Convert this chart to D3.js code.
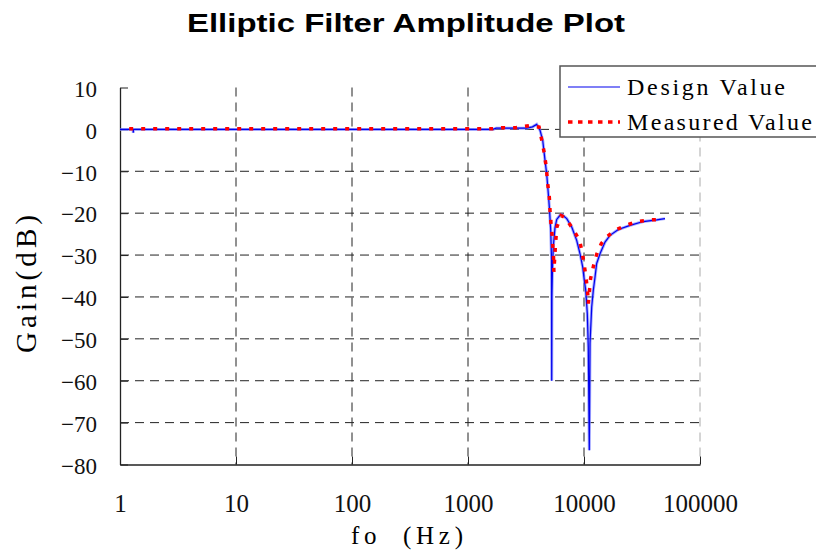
<!DOCTYPE html>
<html>
<head>
<meta charset="utf-8">
<script src="https://cdn.jsdelivr.net/npm/d3@7"></script>
<style>
  body { margin: 0; background: #fff; }
  svg { display: block; }
</style>
</head>
<body>
<div id="chart"></div>
<script>
// Data
const freqTicks = [1, 10, 100, 1000, 10000, 100000];
const gainTicks = [10, 0, -10, -20, -30, -40, -50, -60, -70, -80];

const designFreq = [1, 1.3, 1.3, 1.31, 10, 100, 1000, 1640, 1750, 3200,
                    3600, 3911, 4178, 4406, 4613, 4767, 4923, 5024, 5163, 5250,
                    5268, 5290, 5350, 5437, 5623, 5818, 6212, 6424, 7098, 7838,
                    8650, 9245, 9750, 10060, 10350, 10680, 10890, 11110, 11270, 11650,
                    12030, 12440, 12860, 13740, 15180, 16760, 19770, 24930, 32460, 42340,
                    49890];
const designGain = [0, 0, -0.8, 0, 0, 0, 0, 0, 0.3, 0.3,
                    0.6, 1.2, -0.2, -2.6, -7.4, -10.6, -15.3, -18.5, -24, -31,
                    -60, -40, -33, -28, -23.5, -21.5, -20.5, -20.3, -21.3, -23.3,
                    -26.5, -29.7, -32.9, -36, -38.4, -44, -52, -76.6, -51, -42.4,
                    -38.4, -35.3, -32, -29.7, -26.9, -25.3, -23.9, -22.9, -22, -21.6,
                    -21.3];

const measuredFreq = [1.2, 10, 100, 1000, 1640, 1930, 2590, 3389, 4100, 4318,
                      4555, 4730, 4858, 5024, 5093, 5165, 5330, 5460, 5500, 5690,
                      5840, 6350, 6830, 8000, 9150, 9640, 10000, 10400, 10720, 10890,
                      11400, 12100, 12860, 14080, 15920, 19140, 23110, 27920, 37320, 48340];
const measuredGain = [0.15, 0.15, 0.15, 0.15, 0.15, 0.4, 0.4, 0.9, 0.55, -2.5,
                      -5.8, -9.1, -12.8, -16.2, -19.3, -21.7, -25.7, -30.5, -34, -27,
                      -23.3, -20.6, -21, -23.7, -26.5, -29.3, -32, -35.3, -38.4, -41.6,
                      -35.6, -32.5, -29.8, -27.3, -25.5, -23.9, -22.9, -22.1, -21.6, -21.5];

const W = 816, H = 552;
const plot = { left: 120, right: 700, top: 87.5, bottom: 464.5 };
const serif = "Liberation Serif, Times New Roman, serif";

const svg = d3.select("#chart").append("svg")
    .attr("width", W)
    .attr("height", H);

const x = d3.scaleLog().domain([1, 100000]).range([plot.left, plot.right]);
const y = d3.scaleLinear().domain([-80, 10]).range([plot.bottom, plot.top]);

// Title
svg.append("text")
    .attr("x", 406)
    .attr("y", 32)
    .attr("text-anchor", "middle")
    .attr("font-family", "Liberation Sans, Arial, sans-serif")
    .attr("font-weight", "bold")
    .attr("font-size", "25px")
    .attr("textLength", 438)
    .attr("lengthAdjust", "spacingAndGlyphs")
    .text("Elliptic Filter Amplitude Plot");

// Grid
const grid = svg.append("g");
grid.selectAll(".hgrid")
    .data(gainTicks.filter(d => d <= 0 && d > -80))
    .enter().append("line")
    .attr("x1", plot.left).attr("x2", plot.right)
    .attr("y1", d => y(d)).attr("y2", d => y(d))
    .attr("stroke", "#222")
    .attr("stroke-dasharray", "9,6");

grid.selectAll(".vgrid")
    .data(freqTicks.slice(1))
    .enter().append("line")
    .attr("x1", d => x(d)).attr("x2", d => x(d))
    .attr("y1", plot.top).attr("y2", plot.bottom)
    .attr("stroke", d => d === 100000 ? "#aaa" : "#222")
    .attr("stroke-dasharray", "9,6");

// Axes
const yAxis = d3.axisLeft(y)
    .tickValues(gainTicks)
    .tickSizeInner(-8)
    .tickSizeOuter(0)
    .tickPadding(23);
const gy = svg.append("g")
    .attr("transform", `translate(${plot.left},0)`)
    .call(yAxis);

const xAxis = d3.axisBottom(x)
    .tickValues(freqTicks)
    .tickFormat(d3.format("d"))
    .tickSizeInner(-8)
    .tickSizeOuter(0)
    .tickPadding(30);
const gx = svg.append("g")
    .attr("transform", `translate(0,${plot.bottom})`)
    .call(xAxis);

[gx, gy].forEach(g => {
    g.select(".domain").attr("stroke", "#222").attr("stroke-width", 1.3);
    g.selectAll(".tick line").attr("stroke", "#222");
    g.selectAll(".tick text")
        .attr("font-family", serif)
        .attr("font-size", "23px")
        .attr("fill", "#111");
});
gy.selectAll(".tick text").attr("dy", "0.38em");
gx.selectAll(".tick text").attr("font-size", "25px");

// Axis titles
svg.append("text")
    .attr("transform", "translate(36,284) rotate(-90)")
    .attr("text-anchor", "middle")
    .attr("font-family", serif)
    .attr("font-size", "29px")
    .attr("textLength", 138)
    .attr("lengthAdjust", "spacing")
    .text("Gain(dB)");

svg.append("text")
    .attr("x", 407)
    .attr("y", 544)
    .attr("text-anchor", "middle")
    .attr("font-family", serif)
    .attr("font-size", "25px")
    .attr("textLength", 112)
    .attr("lengthAdjust", "spacing")
    .style("white-space", "pre")
    .text("fo  (Hz)");

// Lines
const line = d3.line()
    .x(d => x(d[0]))
    .y(d => y(d[1]));

const designData = designFreq.map((f, i) => [f, designGain[i]]);
const measuredData = measuredFreq.map((f, i) => [f, measuredGain[i]]);

svg.append("path")
    .datum(designData)
    .attr("fill", "none")
    .attr("stroke", "#7f86ff")
    .attr("stroke-width", 3)
    .attr("stroke-opacity", 0.7)
    .attr("d", line);

svg.append("path")
    .datum(designData)
    .attr("fill", "none")
    .attr("stroke", "#0000ee")
    .attr("stroke-width", 1.2)
    .attr("d", line);

svg.append("path")
    .datum(measuredData)
    .attr("fill", "none")
    .attr("stroke", "#ff0000")
    .attr("stroke-width", 3.5)
    .attr("stroke-dasharray", "4,8")
    .attr("d", line);

// Legend
const legend = svg.append("g");
legend.append("rect")
    .attr("x", 560).attr("y", 66)
    .attr("width", 262).attr("height", 71)
    .attr("fill", "#fff")
    .attr("stroke", "#555")
    .attr("stroke-width", 1.5);

const legendData = [
    { label: "Design Value", color: "#0000ee", width: 1.2, dash: null, y: 87, len: 158 },
    { label: "Measured Value", color: "#ff0000", width: 3.5, dash: "4.5,5.5", y: 122, len: 185 }
];

legendData.forEach(d => {
    legend.append("line")
        .attr("x1", 568).attr("x2", 620)
        .attr("y1", d.y).attr("y2", d.y)
        .attr("stroke", d.color)
        .attr("stroke-width", d.width)
        .attr("stroke-dasharray", d.dash);
    legend.append("text")
        .attr("x", 627)
        .attr("y", d.y + 8)
        .attr("font-family", serif)
        .attr("font-size", "24px")
        .attr("textLength", d.len)
        .attr("lengthAdjust", "spacing")
        .text(d.label);
});
</script>
</body>
</html>
